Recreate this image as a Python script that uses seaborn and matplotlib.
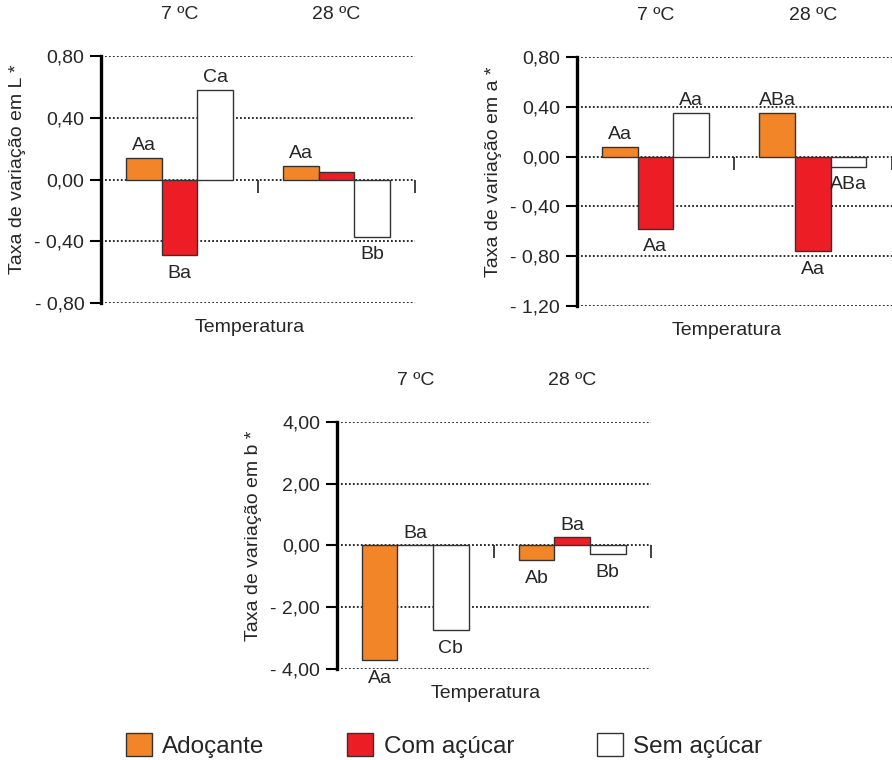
import matplotlib
matplotlib.use("Agg")
import matplotlib.pyplot as plt
from matplotlib.patches import Patch
from matplotlib.ticker import FixedLocator, FuncFormatter
import seaborn as sns
import pandas as pd

# categories
temps = ['7 ºC', '28 ºC']
treatments = ['Adoçante', 'Com açúcar', 'Sem açúcar']
colors = ['#F28527', '#EC1D25', '#FFFFFF']

# taxa de variação em L*  (one list per treatment: 7 ºC, 28 ºC)
L_adocante = [0.14, 0.09]
L_com = [-0.49, 0.05]
L_sem = [0.58, -0.37]
L_letters = [['Aa', 'Aa'], ['Ba', ''], ['Ca', 'Bb']]
L_ticks = [0.80, 0.40, 0.00, -0.40, -0.80]

# taxa de variação em a*
a_adocante = [0.08, 0.35]
a_com = [-0.58, -0.76]
a_sem = [0.35, -0.08]
a_letters = [['Aa', 'ABa'], ['Aa', 'Aa'], ['Aa', 'ABa']]
a_ticks = [0.80, 0.40, 0.00, -0.40, -0.80, -1.20]

# taxa de variação em b*
b_adocante = [-3.72, -0.48]
b_com = [0.00, 0.26]
b_sem = [-2.75, -0.28]
b_letters = [['Aa', 'Ab'], ['Ba', 'Ba'], ['Cb', 'Bb']]
b_ticks = [4.00, 2.00, 0.00, -2.00, -4.00]

FS = 14
EDGE = '#333333'

sns.set_style('white')
plt.rcParams['font.family'] = ['Liberation Sans', 'DejaVu Sans']


def long_df(series):
    rows = []
    for trt, vals in zip(treatments, series):
        for t, v in zip(temps, vals):
            rows.append({'temp': t, 'trat': trt, 'valor': v})
    return pd.DataFrame(rows)


def fmt(v, pos):
    s = f'{abs(v):.2f}'.replace('.', ',')
    return '- ' + s if v < -1e-9 else s


def panel(ax, series, letters, ticks, ylabel):
    df = long_df(series)
    sns.barplot(data=df, x='temp', y='valor', hue='trat', order=temps,
                hue_order=treatments, palette=colors, saturation=1,
                width=0.68, edgecolor=EDGE, linewidth=1.0, errorbar=None,
                legend=False, ax=ax, zorder=3)
    ax.set_xlim(-0.5, 1.5)
    ax.set_ylim(min(ticks), max(ticks))

    # dotted reference lines
    for t in ticks:
        ax.axhline(t, color='#1a1a1a', lw=1.3, ls=(0, (1, 1.2)), zorder=1)

    ax.yaxis.set_major_locator(FixedLocator(ticks))
    ax.yaxis.set_major_formatter(FuncFormatter(fmt))
    ax.tick_params(axis='y', left=True, direction='out', length=8,
                   width=1.5, color='black', labelsize=FS, pad=4)

    # x axis sits on zero, short separators between groups
    ax.spines['bottom'].set_position(('data', 0))
    ax.spines['bottom'].set_visible(False)
    for s in ['top', 'right']:
        ax.spines[s].set_visible(False)
    ax.spines['left'].set_linewidth(2.4)
    ax.spines['left'].set_color('black')
    ax.set_xticks([0, 1])
    ax.set_xticklabels([])
    ax.tick_params(axis='x', which='major', length=0)
    ax.set_xticks([0.5, 1.5], minor=True)
    ax.tick_params(axis='x', which='minor', bottom=True, direction='out',
                   length=9.5, width=1.3, color='#333333')
    ax.set_xlabel('')
    ax.set_ylabel(ylabel, fontsize=FS, labelpad=6)
    ax.yaxis.label.set_y(0.54)

    # temperature names above groups
    for i, t in enumerate(temps):
        ax.text(i, 1.168, t, transform=ax.get_xaxis_transform(),
                ha='center', va='center', fontsize=FS)
    ax.text(0.475, -0.098, 'Temperatura', transform=ax.transAxes,
            ha='center', va='center', fontsize=FS)

    # significance letters
    for cont, labs in zip(ax.containers, letters):
        for bar, lab in zip(cont, labs):
            if not lab:
                continue
            h = bar.get_height()
            xc = bar.get_x() + bar.get_width() / 2
            if h >= 0:
                ax.annotate(lab, (xc, h), xytext=(0, 5.5),
                            textcoords='offset points', ha='center',
                            va='baseline', fontsize=FS)
            else:
                ax.annotate(lab, (xc, h), xytext=(0, -7),
                            textcoords='offset points', ha='center',
                            va='top', fontsize=FS)


fig = plt.figure(figsize=(8.92, 7.6), dpi=100)
ax1 = fig.add_axes([0.1132, 0.6013, 0.352, 0.325])
ax2 = fig.add_axes([0.6465, 0.5978, 0.353, 0.327])
ax3 = fig.add_axes([0.3775, 0.1197, 0.352, 0.3254])

panel(ax1, [L_adocante, L_com, L_sem], L_letters, L_ticks,
      'Taxa de variação em L *')
panel(ax2, [a_adocante, a_com, a_sem], a_letters, a_ticks,
      'Taxa de variação em a *')
panel(ax3, [b_adocante, b_com, b_sem], b_letters, b_ticks,
      'Taxa de variação em b *')

handles = [Patch(facecolor=c, edgecolor=EDGE, linewidth=1.0, label=t)
           for c, t in zip(colors, treatments)]
fig.legend(handles=handles, loc='center', ncol=3,
           bbox_to_anchor=(444 / 892, 1 - 745.5 / 760), frameon=False,
           fontsize=17.5, handlelength=1.07, handleheight=1.03,
           handletextpad=0.42, columnspacing=3.4)

fig.savefig('out.png', dpi=100)
